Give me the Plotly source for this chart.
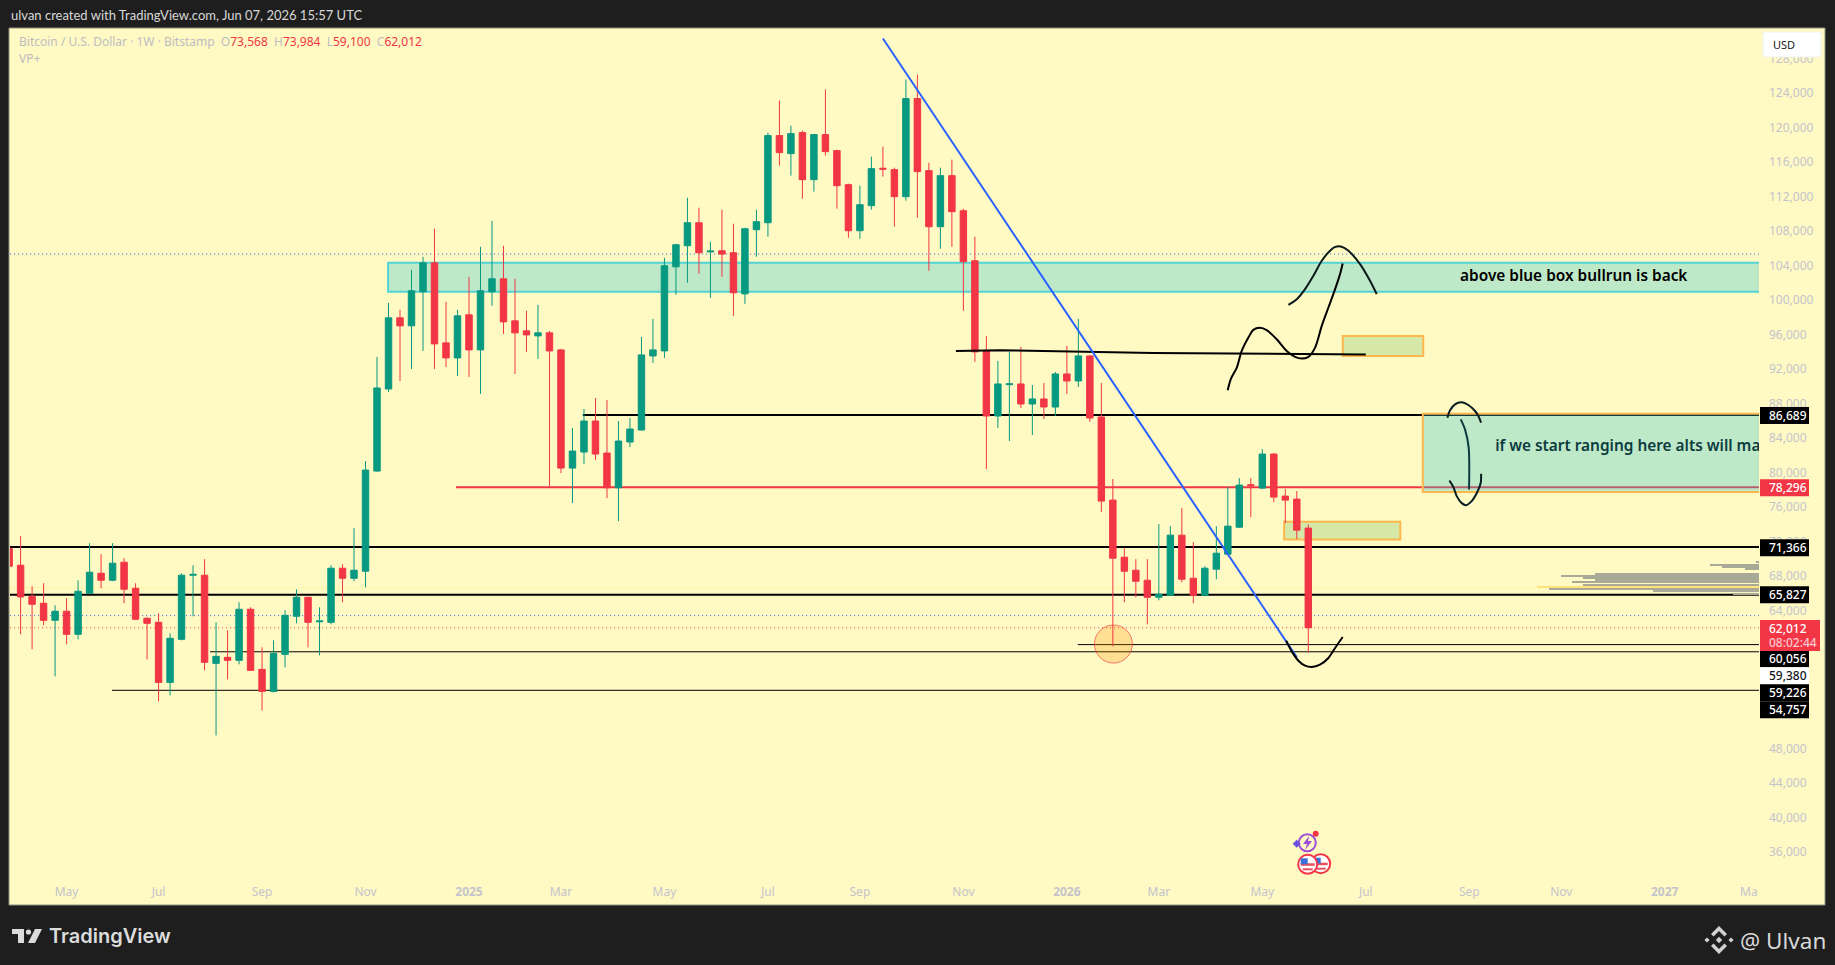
# -*- coding: utf-8 -*-
import plotly.graph_objects as go

# --------------------------------------------------------------- #
#### Data ####
# --------------------------------------------------------------- #
opens = [71238, 69263, 65663, 64850, 62875, 63921, 61250, 66011, 68334, 67521,
         69612, 66592, 63108, 62643, 55675, 60669, 68100, 68102, 57882, 58579,
         58230, 64153, 57185, 54630, 58927, 63340, 65547, 62700, 62643, 68915,
         67753, 68566, 80181, 89703, 97950, 97021, 100970, 104337, 95046, 93304,
         98298, 94233, 100970, 102480, 97601, 96440, 95859, 96208, 94233, 80529,
         82387, 85987, 82271, 78245, 83548, 84942, 93536, 94117, 103872, 106312,
         108983, 105600, 105731, 105498, 100736, 108170, 108983, 119087, 116996, 119435,
         113976, 119203, 117345, 113396, 108053, 110957, 115300, 115138, 112002, 123384,
         115022, 108518, 114441, 110376, 104569, 94116, 86568, 90200, 90284, 87961,
         88542, 87612, 91446, 90632, 93536, 86451, 76812, 70192, 68683, 67522,
         65546, 65778, 72748, 67754, 65778, 68799, 70541, 73676, 78600, 78206,
         82155, 77277, 76928, 73568]
highs = [71500, 72631, 66824, 67172, 64618, 65431, 67521, 71818, 70541, 71818,
         70076, 67172, 63224, 63689, 61366, 68334, 69263, 69960, 62643, 61714,
         64966, 64385, 59740, 60553, 64037, 66476, 65600, 64385, 69263, 69380,
         73560, 81342, 93421, 99691, 98879, 103525, 105035, 108286, 99808, 98879,
         102712, 106196, 109215, 106312, 102480, 98763, 99460, 96440, 94350, 85174,
         87380, 88659, 88427, 85987, 86335, 95743, 97833, 104918, 106544, 111886,
         110725, 106776, 110492, 108867, 108402, 110492, 119435, 123152, 120248, 119668,
         119250, 124429, 117461, 113512, 113280, 116648, 117809, 115370, 125591, 126171,
         115951, 115370, 116300, 110609, 107357, 95859, 92955, 94000, 94581, 90168,
         90400, 91678, 94697, 97833, 93600, 90400, 79251, 71237, 69960, 69960,
         74025, 73793, 75884, 71934, 69147, 73793, 78322, 79368, 79368, 82735,
         82271, 78090, 77858, 73984]
lows = [68800, 61250, 59508, 62295, 56372, 60088, 60669, 65900, 66592, 67400,
        64850, 62900, 58346, 53468, 54165, 60553, 63340, 57069, 49519, 56024,
        57765, 57000, 52423, 54513, 57417, 62527, 59740, 58810, 62411, 64966,
        67405, 66708, 80100, 89355, 90634, 92027, 94117, 92027, 92259, 91214,
        91098, 89123, 99344, 96092, 91446, 94000, 93188, 78400, 79948, 76464,
        80993, 81458, 77045, 74373, 82968, 84900, 92723, 93304, 100620, 102014,
        103060, 100272, 102711, 98182, 99576, 105034, 107357, 115602, 114441, 111770,
        112583, 116764, 110609, 107241, 107124, 110492, 114325, 108518, 111537, 109563,
        103408, 105963, 106195, 98762, 92839, 80412, 85174, 83664, 87496, 84361,
        86219, 86568, 89123, 89936, 85871, 75417, 59856, 64966, 65546, 62410,
        65198, 65700, 67289, 64850, 65662, 67638, 70500, 73600, 74838, 78090,
        76580, 74141, 72282, 59100]
closes = [69147, 65585, 64734, 62875, 63921, 61250, 66244, 68450, 67521, 69496,
          66476, 62992, 62527, 55675, 60785, 68102, 68200, 58003, 58695, 58230,
          64153, 57069, 54630, 59043, 63456, 65547, 62643, 62800, 68915, 67753,
          68683, 80297, 89820, 97950, 97021, 101086, 104337, 94930, 93304, 98182,
          94233, 101086, 102480, 97485, 96208, 95975, 96208, 94117, 80529, 82503,
          85987, 82155, 78245, 83664, 85058, 93652, 94233, 103989, 106428, 108983,
          105498, 105700, 105343, 100853, 108286, 109099, 119087, 117112, 119319, 113976,
          119203, 117228, 113280, 108053, 111073, 115254, 115200, 112002, 123384, 114906,
          108518, 114441, 110260, 104453, 93999, 86568, 90284, 90300, 87961, 88542,
          87612, 91446, 90632, 93536, 86335, 76696, 70076, 68567, 67405, 65546,
          65894, 72748, 67638, 65778, 68915, 70657, 73793, 78554, 78500, 82155,
          77161, 76812, 73328, 62012]
bars = list(range(len(opens)))

# first bar is the week of 1 Apr 2024, weekly bars, future bars go on counting
month_bars = [5, 13, 22, 31, 40, 48, 57, 66, 74, 83, 92, 100, 109, 118, 127, 135, 144]
month_labels = ["May", "Jul", "Sep", "Nov", "<b>2025</b>", "Mar", "May", "Jul", "Sep", "Nov",
                "<b>2026</b>", "Mar", "May", "Jul", "Sep", "Nov", "<b>2027</b>"]
# 52,000 56,000 and 60,000 sit fully behind the price tags
price_ticks = [36000, 40000, 44000, 48000, 64000, 68000, 72000,
               76000, 80000, 84000, 88000, 92000, 96000, 100000, 104000, 108000, 112000,
               116000, 120000, 124000, 128000]

# drawings: (first bar, price)
black_levels = [(-10, 71366, 2), (-10, 65827, 2), (49.9, 86689, 2), (92.95, 60056, 1),
                (17.47, 59226, 1), (8.95, 54757, 1)]
red_level = 78296
red_level_start = 38.87
dotted_levels = [(105348, "#2962ff"), (63418, "#2962ff"), (62012, "#f23645"), (66670, "#ffeb3b")]

trend_x = [76.0, 112.0]
trend_y = [130353, 58578]

flat_x = [82.35, 86.19, 99.5, 118.0]
flat_y = [94117, 94198, 93885, 93711]

path_x = [105.99, 106.25, 106.78, 107.21, 107.79, 108.22, 108.80, 109.38, 110.25, 111.12,
          111.85, 112.43, 113.01, 113.59, 114.17, 114.75, 115.33, 115.76, 115.99]
path_y = [89549, 90826, 92181, 94117, 95666, 96556, 96788, 96517, 95472, 94117,
          93420, 93226, 93420, 94504, 97021, 99150, 101279, 103021, 104260]
peak_x = [111.27, 112.0, 112.72, 113.44, 114.17, 114.89, 115.3, 115.9, 116.49, 117.5, 118.37, 118.95]
peak_y = [99459, 100118, 101279, 102827, 104570, 105731, 106150, 106200, 105731, 104182, 102247, 100698]
dip_x = [111.07, 111.56, 112.14, 112.72, 113.30, 114.02, 114.75, 115.33, 115.99]
dip_y = [60514, 59275, 58191, 57611, 57456, 57727, 58501, 59662, 60940]

arc_top_x = [125.10, 125.33, 125.76, 126.34, 126.92, 127.50, 127.79, 128.03]
arc_top_y = [86374, 87226, 87923, 88155, 87845, 87149, 86568, 85794]
arc_mid_x = [126.26, 126.63, 126.95, 126.98]
arc_mid_y = [86181, 85019, 82890, 78051]
arc_low_x = [125.27, 125.62, 125.91, 126.34, 126.72, 127.21, 127.71, 128.0, 128.03]
arc_low_y = [79096, 78322, 77277, 76464, 76232, 76696, 77780, 78825, 79871]

# visible range volume rows at the right edge
vp_prices = [69611, 69302, 69069, 68837, 68295, 68063, 67831, 67598, 67289, 67018, 66785, 66515, 66282, 65972]
vp_volumes = [3, 49, 37, 14, 164, 198, 176, 164, 187, 176, 222, 210, 106, 26]

# --------------------------------------------------------------- #
#### Colors and page layout ####
# --------------------------------------------------------------- #
CREAM = "#fff9c4"
DARK = "#1e1e1e"
GREEN = "#089981"
RED = "#f23645"
GREY = "#c4c4cc"
FONT = "Noto Sans"

PLOT_L, PLOT_T, PLOT_R, PLOT_B = 10, 28, 1759, 878
X_MIN, X_MAX = 0.078, 152.2
Y_MIN, Y_MAX = 32990, 131564


def fx(px):
    return (px - PLOT_L) / (PLOT_R - PLOT_L)


def fy(py):
    # chrome sits 1px lower than the pane origin
    return 1 - (py + 1 - PLOT_T) / (PLOT_B - PLOT_T)


def page_rect(x0, y0, x1, y1, fill, line=None, layer="above", width=0):
    return dict(type="rect", xref="paper", yref="paper", x0=fx(x0), x1=fx(x1), y0=fy(y0), y1=fy(y1),
                fillcolor=fill, line=dict(color=line or fill, width=width), layer=layer)


def page_circle(cx, cy, r, fill, line=None, width=0):
    return dict(type="circle", xref="paper", yref="paper", x0=fx(cx - r), x1=fx(cx + r),
                y0=fy(cy + r), y1=fy(cy - r), fillcolor=fill,
                line=dict(color=line or fill, width=width), layer="above")


def page_poly(points, fill, line=None, width=0):
    path = "M" + " L".join(f"{fx(x):.5f},{fy(y):.5f}" for x, y in points) + " Z"
    return dict(type="path", xref="paper", yref="paper", path=path, fillcolor=fill,
                line=dict(color=line or fill, width=width), layer="above")


def page_text(px, py, text, color, size, anchor="left", weight=None, font=FONT):
    return dict(xref="paper", yref="paper", x=fx(px), y=fy(py), text=text, showarrow=False,
                xanchor=anchor, yanchor="middle", align=anchor, borderpad=0,
                font=dict(family=font, size=size, color=color, weight=weight))


def diamond(cx, cy, r):
    return [(cx - r, cy), (cx, cy - r), (cx + r, cy), (cx, cy + r)]


# --------------------------------------------------------------- #
#### Traces ####
# --------------------------------------------------------------- #
fig = go.Figure()

fig.add_trace(go.Candlestick(x=bars, open=opens, high=highs, low=lows, close=closes,
                             increasing=dict(line=dict(color=GREEN, width=1), fillcolor=GREEN),
                             decreasing=dict(line=dict(color=RED, width=1), fillcolor=RED),
                             whiskerwidth=0))

vp_colors = ["#ffe27a" if v == max(vp_volumes) else "#a9a997" for v in vp_volumes]
fig.add_trace(go.Bar(y=vp_prices, x=vp_volumes, orientation="h", xaxis="x2", width=150,
                     marker=dict(color=vp_colors, line=dict(width=0))))

fig.add_trace(go.Scatter(x=flat_x, y=flat_y, mode="lines", line=dict(color="#000000", width=2)))
fig.add_trace(go.Scatter(x=trend_x, y=trend_y, mode="lines", line=dict(color="#2962ff", width=2)))

for sx, sy, col in [(path_x, path_y, "#000000"), (peak_x, peak_y, "#0a1a1a"), (dip_x, dip_y, "#000000"),
                    (arc_top_x, arc_top_y, "#061c20"), (arc_mid_x, arc_mid_y, "#0c3b3f"),
                    (arc_low_x, arc_low_y, "#061c20")]:
    fig.add_trace(go.Scatter(x=sx, y=sy, mode="lines",
                             line=dict(color=col, width=2, shape="spline", smoothing=0.8)))

fig.add_trace(go.Scatter(x=[126.2], y=[102650], mode="text", text=["above blue box bullrun is back"],
                         textposition="middle right",
                         textfont=dict(family=FONT, size=15.4, color="#000000", weight=600)))
fig.add_trace(go.Scatter(x=[129.25], y=[82950], mode="text", text=["if we start ranging here alts will ma"],
                         textposition="middle right",
                         textfont=dict(family=FONT, size=15.4, color="#0c3b3f", weight=600)))

# --------------------------------------------------------------- #
#### Shapes ####
# --------------------------------------------------------------- #
shapes = [page_rect(9, 27, 1825, 904, CREAM, "#8f8f80", layer="below", width=1)]

for level, col in dotted_levels:
    shapes.append(dict(type="line", xref="x", yref="y", x0=-10, x1=160, y0=level, y1=level,
                       line=dict(color=col, width=1, dash="1px,3px"), layer="below"))
for start, level, lw in black_levels:
    shapes.append(dict(type="line", xref="x", yref="y", x0=start, x1=160, y0=level, y1=level,
                       line=dict(color="#000000", width=lw), layer="below"))
shapes.append(dict(type="line", xref="x", yref="y", x0=red_level_start, x1=160, y0=red_level, y1=red_level,
                   line=dict(color=RED, width=2), layer="below"))

for x0, x1, y0, y1, fill, edge in [
        (32.96, 160, 100970, 104340, "rgba(40,197,210,0.3)", "#52d4d6"),
        (122.96, 160, 77741, 86835, "rgba(40,197,210,0.3)", "#ffb74d"),
        (116.0, 123.0, 93536, 95859, "rgba(115,192,103,0.3)", "#ffb74d"),
        (110.9, 121.0, 72249, 74293, "rgba(115,192,103,0.3)", "#ffb74d")]:
    shapes.append(dict(type="rect", xref="x", yref="y", x0=x0, x1=x1, y0=y0, y1=y1, fillcolor=fill,
                       line=dict(color=edge, width=2), layer="below"))

# circle on the February low
shapes.append(dict(type="circle", xref="x", yref="y", x0=94.4, x1=97.7, y0=57916, y1=62330,
                   fillcolor="rgba(255,152,0,0.25)", line=dict(color="rgba(242,54,69,0.65)", width=1),
                   layer="below"))

# price tags on the axis
annotations = []
for center, label, bg, fg in [(414.5, "86,689", "#000000", "#ffffff"), (486.7, "78,296", RED, "#ffffff"),
                              (546.7, "71,366", "#000000", "#ffffff"), (593.7, "65,827", "#000000", "#ffffff"),
                              (657.7, "60,056", "#000000", "#ffffff"), (674.7, "59,380", "#ffffff", "#131722"),
                              (691.7, "59,226", "#000000", "#ffffff"), (708.7, "54,757", "#000000", "#ffffff")]:
    shapes.append(page_rect(1760, center - 8.5, 1809, center + 8.5, bg))
    annotations.append(page_text(1768, center, label, fg, 12, weight=500))

shapes.append(page_rect(1760, 619, 1820, 650, RED))
annotations.append(page_text(1768, 627, "62,012", "#ffffff", 12, weight=500))
annotations.append(page_text(1768, 641, "08:02:44", "#fbc9cf", 12, weight=500))

# currency button
shapes.append(dict(type="rect", xref="paper", yref="paper", x0=fx(1763), x1=fx(1821), y0=fy(31), y1=fy(56),
                   fillcolor="#ffffff", line=dict(color="#f2f2e8", width=1), layer="above"))
annotations.append(page_text(1772, 43.5, "USD", "#131722", 11))

# economic event icons
shapes.append(page_circle(1307.3, 841.7, 8.5, "rgba(0,0,0,0)", "#9c4fd6", 2))
shapes.append(page_poly([(1309, 835), (1303, 843), (1307, 843), (1305, 849), (1312, 840), (1308, 840)], "#9c4fd6"))
shapes.append(page_poly(diamond(1296.7, 842.7, 4), "#6a4fe0"))
shapes.append(page_circle(1315.7, 832.7, 3, RED))
for cx, cy in [(1320.7, 862.7), (1307.7, 863.3)]:
    shapes.append(page_circle(cx, cy, 9.5, "#ffffff", RED, 2))
    shapes.append(page_rect(cx - 7, cy - 1, cx + 7, cy + 1.5, "#e8505c"))
    shapes.append(page_rect(cx - 5, cy + 4, cx + 5, cy + 6, "#e8505c"))
    shapes.append(page_rect(cx - 7, cy - 6, cx, cy, "#3f6fd8"))

# footer logos
shapes.append(page_poly([(12, 928), (24, 928), (24, 942), (18, 942), (18, 933), (12, 933)], "#dcdcdc"))
shapes.append(page_circle(28.5, 931, 2.6, "#dcdcdc"))
shapes.append(page_poly([(35, 928), (42, 928), (35, 942), (28, 942)], "#dcdcdc"))
binance = "#d2d2d2"
shapes.append(page_poly(diamond(1719, 939, 3.2), binance))
shapes.append(page_poly(diamond(1707, 939, 2.6), binance))
shapes.append(page_poly(diamond(1731, 939, 2.6), binance))
shapes.append(page_poly([(1719, 925), (1727, 933), (1724.5, 935.5), (1719, 930), (1713.5, 935.5), (1711, 933)], binance))
shapes.append(page_poly([(1719, 953), (1727, 945), (1724.5, 942.5), (1719, 948), (1713.5, 942.5), (1711, 945)], binance))

# --------------------------------------------------------------- #
#### Texts outside the pane ####
# --------------------------------------------------------------- #
annotations.append(page_text(10, 14, "ulvan created with TradingView.com, Jun 07, 2026 15:57 UTC", "#d8d8d8", 13, font="Lato"))
annotations.append(page_text(
    18, 40.7,
    f'Bitcoin / U.S. Dollar · 1W · Bitstamp  O<span style="color:{RED}">73,568</span>  '
    f'H<span style="color:{RED}">73,984</span>  L<span style="color:{RED}">59,100</span>  '
    f'C<span style="color:{RED}">62,012</span>', "#bdbdc2", 12))
annotations.append(page_text(18, 57.5, "VP+", "#bdbdc2", 12))
annotations.append(page_text(1759, 891, "Ma", GREY, 12, anchor="right"))
annotations.append(page_text(48, 935, "TradingView", "#dcdcdc", 20, weight=600, font="Inter"))
annotations.append(page_text(1739, 939, "@ Ulvan", "#d8d8d8", 22.5))

# --------------------------------------------------------------- #
#### Layout ####
# --------------------------------------------------------------- #
fig.update_layout(
    width=1835, height=965, autosize=False,
    paper_bgcolor=DARK, plot_bgcolor=CREAM,
    margin=dict(l=PLOT_L, r=1835 - PLOT_R, t=PLOT_T, b=965 - PLOT_B, pad=0),
    showlegend=False, boxgap=0.2, hovermode=False, dragmode=False,
    font=dict(family=FONT, size=12, color=GREY),
    xaxis=dict(range=[X_MIN, X_MAX], tickvals=month_bars, ticktext=month_labels, showgrid=False,
               zeroline=False, showline=False, ticks="", rangeslider=dict(visible=False),
               tickfont=dict(family=FONT, size=12, color=GREY), ticklabelstandoff=5),
    xaxis2=dict(range=[PLOT_R - PLOT_L, 0], overlaying="x", visible=False),
    yaxis=dict(range=[Y_MIN, Y_MAX], side="right", tickvals=price_ticks, tickformat=",", showgrid=False,
               zeroline=False, showline=False, ticks="", ticklabelstandoff=9,
               tickfont=dict(family=FONT, size=12, color=GREY)),
    shapes=shapes, annotations=annotations,
)

# page body has an 8px margin by default, the chart has to fill the window
fig.write_html("out.html", config={"displayModeBar": False},
               post_script="document.body.style.margin='0';document.body.style.background='#1e1e1e';")
